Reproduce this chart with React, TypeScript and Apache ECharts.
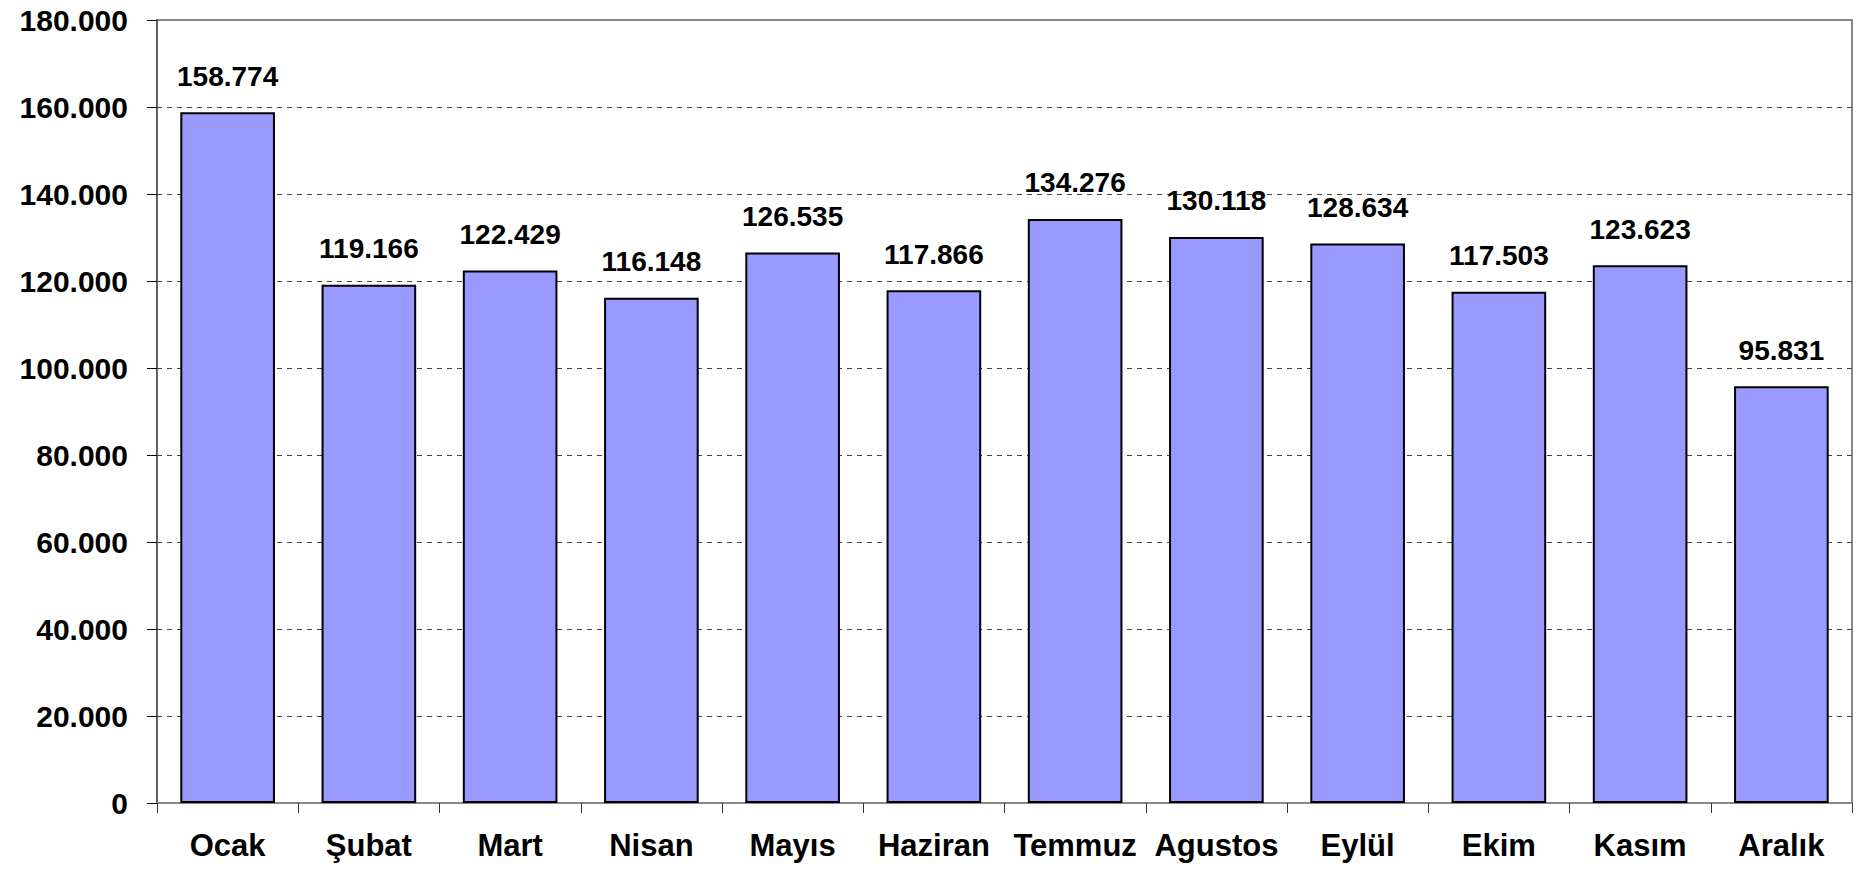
import React, { useEffect, useRef } from "react";
import * as echarts from "echarts";

const categories = ["Ocak", "Şubat", "Mart", "Nisan", "Mayıs", "Haziran", "Temmuz", "Agustos", "Eylül", "Ekim", "Kasım", "Aralık"];
const values = [158774, 119166, 122429, 116148, 126535, 117866, 134276, 130118, 128634, 117503, 123623, 95831];

const fmt = (v: number) => String(Math.round(v)).replace(/\B(?=(\d{3})+(?!\d))/g, ".");

export default function App() {
  const ref = useRef<HTMLDivElement>(null);
  useEffect(() => {
    document.body.style.margin = "0";
    const chart = echarts.init(ref.current!, null, { renderer: "svg" });
    chart.setOption({
      animation: false,
      backgroundColor: "#ffffff",
      textStyle: { fontFamily: "Liberation Sans, Arial, sans-serif" },
      grid: {
        left: 157,
        top: 20,
        right: 22,
        bottom: 70,
        show: true,
        borderColor: "#888888",
        borderWidth: 2,
        backgroundColor: "transparent",
      },
      xAxis: {
        type: "category",
        data: categories,
        axisLine: { show: true, lineStyle: { color: "#888888", width: 2 } },
        axisTick: { show: true, length: 10, lineStyle: { color: "#333333", width: 1 } },
        axisLabel: {
          margin: 27,
          fontSize: 31,
          fontWeight: "bold",
          color: "#000000",
          fontFamily: "Liberation Sans, Arial, sans-serif",
          interval: 0,
        },
      },
      yAxis: {
        type: "value",
        min: 0,
        max: 180000,
        interval: 20000,
        axisLine: { show: true, lineStyle: { color: "#555555", width: 1.5 } },
        axisTick: { show: true, length: 10, lineStyle: { color: "#000000", width: 1 } },
        axisLabel: {
          margin: 29,
          fontSize: 30,
          fontWeight: "bold",
          color: "#000000",
          fontFamily: "Liberation Sans, Arial, sans-serif",
          formatter: (v: number) => fmt(v),
        },
        splitLine: {
          show: true,
          showMaxLine: false,
          showMinLine: false,
          lineStyle: { color: "#444444", type: [5, 5], width: 1 },
        },
      },
      series: [
        {
          type: "bar",
          data: values,
          barCategoryGap: "33%",
          itemStyle: { color: "#9999FF", borderColor: "#000000", borderWidth: 2 },
          label: {
            show: true,
            position: "top",
            distance: 22,
            fontSize: 28,
            fontWeight: "bold",
            color: "#000000",
            fontFamily: "Liberation Sans, Arial, sans-serif",
            formatter: (p: any) => fmt(p.value),
          },
        },
      ],
    });
    return () => chart.dispose();
  }, []);
  return <div ref={ref} style={{ width: 1874, height: 873 }} />;
}
